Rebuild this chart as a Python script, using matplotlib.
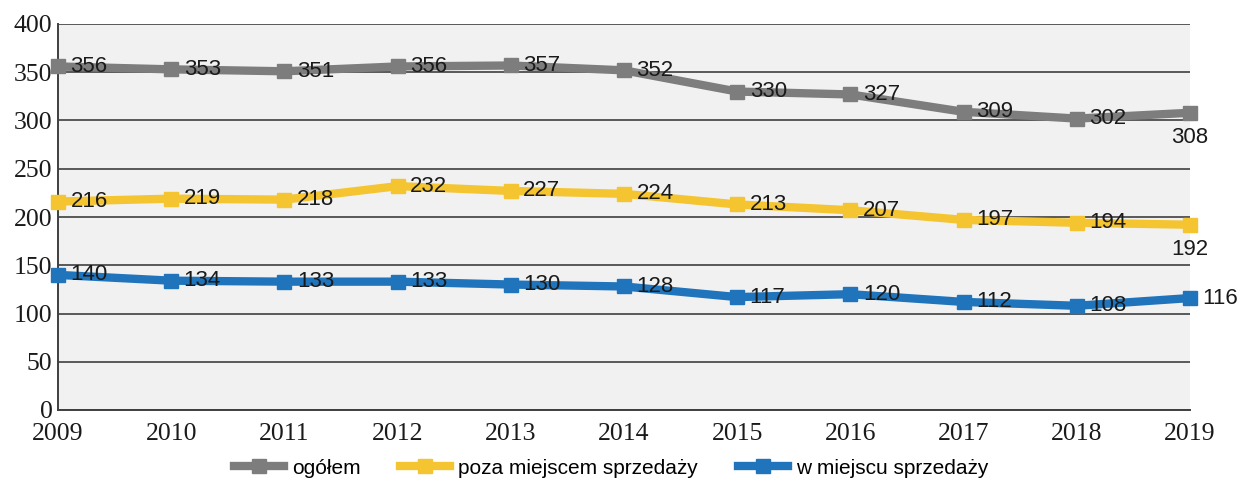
import matplotlib
matplotlib.use("Agg")
import matplotlib.pyplot as plt

years = [2009, 2010, 2011, 2012, 2013, 2014, 2015, 2016, 2017, 2018, 2019]
ogolem = [356, 353, 351, 356, 357, 352, 330, 327, 309, 302, 308]
poza = [216, 219, 218, 232, 227, 224, 213, 207, 197, 194, 192]
w_miejscu = [140, 134, 133, 133, 130, 128, 117, 120, 112, 108, 116]
series_names = ["ogółem", "poza miejscem sprzedaży", "w miejscu sprzedaży"]
colors = ["#7d7d7d", "#f4c431", "#1f74bb"]
y_ticks = [0, 50, 100, 150, 200, 250, 300, 350, 400]

fig = plt.figure(figsize=(12.47, 4.82), dpi=100)
ax = fig.add_axes([58 / 1247, 72 / 482, (1190 - 58) / 1247, 386 / 482])
ax.set_facecolor("#f1f1f1")

for vals, name, c in zip([ogolem, poza, w_miejscu], series_names, colors):
    ax.plot(years, vals, color=c, lw=6, marker="s", ms=9.5, mfc=c, mec=c,
            label=name, clip_on=False, zorder=3, solid_joinstyle="round")

label_font = dict(family=["Liberation Sans", "DejaVu Sans"], fontsize=16, color="#1a1a1a")
for vals in [ogolem, poza, w_miejscu]:
    for i, (x, v) in enumerate(zip(years, vals)):
        if x == years[-1] and vals is not w_miejscu:
            ax.annotate(str(v), (x, v), xytext=(0, -10), textcoords="offset points",
                        ha="center", va="top", zorder=5, **label_font)
        else:
            ax.annotate(str(v), (x, v), xytext=(9, 0), textcoords="offset points",
                        ha="left", va="center", zorder=5, **label_font)

ax.set_xlim(2009, 2019)
ax.set_ylim(0, 400)
ax.set_yticks(y_ticks)
ax.set_xticks(years)
ax.grid(axis="y", color="#3f3f3f", lw=1.2, zorder=1)
ax.set_axisbelow(True)
for s in ["top", "right"]:
    ax.spines[s].set_visible(False)
for s in ["left", "bottom"]:
    ax.spines[s].set_color("#3f3f3f")
    ax.spines[s].set_linewidth(1.4)
ax.tick_params(axis="both", length=0, labelsize=18.5, colors="#1a1a1a")
ax.tick_params(axis="y", pad=4)
ax.tick_params(axis="x", pad=9)
for lab in ax.get_xticklabels() + ax.get_yticklabels():
    lab.set_family(["Liberation Serif", "DejaVu Serif"])

leg = fig.legend(loc="lower center", bbox_to_anchor=(0.49, -0.03), ncol=3, frameon=False,
                 prop={"family": ["Liberation Sans", "DejaVu Sans"], "size": 15},
                 handlelength=2.4, columnspacing=1.9, handletextpad=0.4)

fig.savefig("out.png", dpi=100)
